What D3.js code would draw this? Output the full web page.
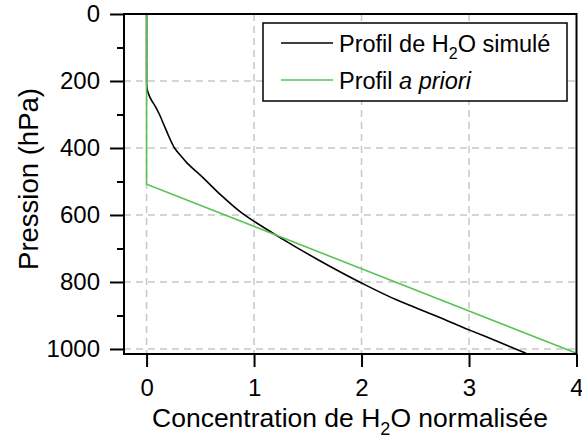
<!DOCTYPE html>
<html>
<head>
<meta charset="utf-8">
<script src="https://cdn.jsdelivr.net/npm/d3@7"></script>
<style>
  body { margin: 0; background: #fff; }
  text { font-family: "Liberation Sans", Arial, sans-serif; fill: #000; }
</style>
</head>
<body>
<div id="chart"></div>
<script>
// Simulated H2O profile (normalised concentration vs pressure in hPa)
const simConc = [0, 0, 0.004, 0.02, 0.045, 0.08, 0.12, 0.16, 0.2, 0.235, 0.26, 0.31, 0.38, 0.5, 0.7, 0.87, 1.25, 1.62, 2.0, 2.33, 2.7, 3.0, 3.3, 3.53]
const simPres = [0, 200, 222, 240, 257, 275, 300, 330, 360, 385, 400, 420, 446, 481, 543, 590, 669, 738, 803, 854, 902, 943, 982, 1013]

// A priori profile
const aprioriConc = [0, 0, 4]
const aprioriPres = [0, 508, 1013]

const xTicks = [0, 1, 2, 3, 4]
const yTicks = [0, 200, 400, 600, 800, 1000]
const yMinorTicks = [100, 300, 500, 700, 900]
const xGrid = [0, 1, 2, 3]
const yGrid = [200, 400, 600, 800, 1000]

const colours = ["#000000", "#55c455"]

const width = 582
const height = 446
const plot = {left: 124, right: 576.5, top: 14, bottom: 354}

const svg = d3.select("#chart")
  .append("svg")
  .attr("width", width)
  .attr("height", height)

const xScale = d3.scaleLinear()
  .domain([-0.21, 4])
  .range([plot.left, plot.right])

const yScale = d3.scaleLinear()
  .domain([0, 1015])
  .range([plot.top, plot.bottom])

// Dashed grid lines
const grid = svg.append("g")
  .attr("stroke", "#c8c8c8")
  .attr("stroke-width", 1.5)
  .attr("stroke-dasharray", "7,5")

xGrid.forEach(function (d) {
  grid.append("line")
    .attr("x1", xScale(d)).attr("x2", xScale(d))
    .attr("y1", plot.top).attr("y2", plot.bottom)
})
yGrid.forEach(function (d) {
  grid.append("line")
    .attr("x1", plot.left).attr("x2", plot.right)
    .attr("y1", yScale(d)).attr("y2", yScale(d))
})

// Profiles
const profiles = [
  {x: simConc, y: simPres},
  {x: aprioriConc, y: aprioriPres}
]
profiles.forEach(function (p, i) {
  const line = d3.line()
    .x(function (d, j) { return xScale(p.x[j]) })
    .y(function (d, j) { return yScale(p.y[j]) })
    .curve(i === 0 ? d3.curveMonotoneY : d3.curveLinear)
  svg.append("path")
    .datum(p.x)
    .attr("d", line)
    .attr("fill", "none")
    .attr("stroke", colours[i])
    .attr("stroke-width", 1.6)
})

// Axes
const yAxis = svg.append("g")
  .attr("transform", "translate(" + plot.left + ",0)")
  .call(d3.axisLeft(yScale).tickValues(yTicks).tickSize(14).tickPadding(10).tickFormat(d3.format("d")))
yAxis.select(".domain").remove()

const yMinor = svg.append("g")
  .attr("transform", "translate(" + plot.left + ",0)")
  .call(d3.axisLeft(yScale).tickValues(yMinorTicks).tickSize(7).tickFormat(""))
yMinor.select(".domain").remove()

const xAxis = svg.append("g")
  .attr("transform", "translate(0," + plot.bottom + ")")
  .call(d3.axisBottom(xScale).tickValues(xTicks).tickSize(13).tickPadding(12).tickFormat(d3.format("d")))
xAxis.select(".domain").remove()

svg.selectAll(".tick line").attr("stroke", "#000").attr("stroke-width", 2)
svg.selectAll(".tick text").style("font-size", "24px").attr("fill", "#000")

// Frame
svg.append("rect")
  .attr("x", plot.left)
  .attr("y", plot.top)
  .attr("width", plot.right - plot.left)
  .attr("height", plot.bottom - plot.top)
  .attr("fill", "none")
  .attr("stroke", "#000")
  .attr("stroke-width", 2)

// Axis titles
const xTitle = svg.append("text")
  .attr("x", 350)
  .attr("y", 427)
  .attr("text-anchor", "middle")
  .style("font-size", "26.5px")
xTitle.append("tspan").text("Concentration de H")
xTitle.append("tspan").attr("dy", 8).style("font-size", "18px").text("2")
xTitle.append("tspan").attr("dy", -8).text("O normalisée")

svg.append("text")
  .attr("transform", "translate(38,179) rotate(-90)")
  .attr("text-anchor", "middle")
  .style("font-size", "27.5px")
  .text("Pression (hPa)")

// Legend
const legend = svg.append("g")
legend.append("rect")
  .attr("x", 263)
  .attr("y", 23)
  .attr("width", 304)
  .attr("height", 78)
  .attr("fill", "#fff")
  .attr("stroke", "#000")
  .attr("stroke-width", 1.5)

const legendRows = [43, 80]
legendRows.forEach(function (y, i) {
  legend.append("line")
    .attr("x1", 281).attr("x2", 333)
    .attr("y1", y).attr("y2", y)
    .attr("stroke", colours[i])
    .attr("stroke-width", 1.5)
})

const l1 = legend.append("text")
  .attr("x", 339)
  .attr("y", legendRows[0] + 8.5)
  .style("font-size", "23.5px")
l1.append("tspan").text("Profil de H")
l1.append("tspan").attr("dy", 7).style("font-size", "16px").text("2")
l1.append("tspan").attr("dy", -7).text("O simulé")

const l2 = legend.append("text")
  .attr("x", 339)
  .attr("y", legendRows[1] + 8.5)
  .style("font-size", "23.5px")
l2.append("tspan").text("Profil ")
l2.append("tspan").style("font-style", "italic").text("a priori")
</script>
</body>
</html>
